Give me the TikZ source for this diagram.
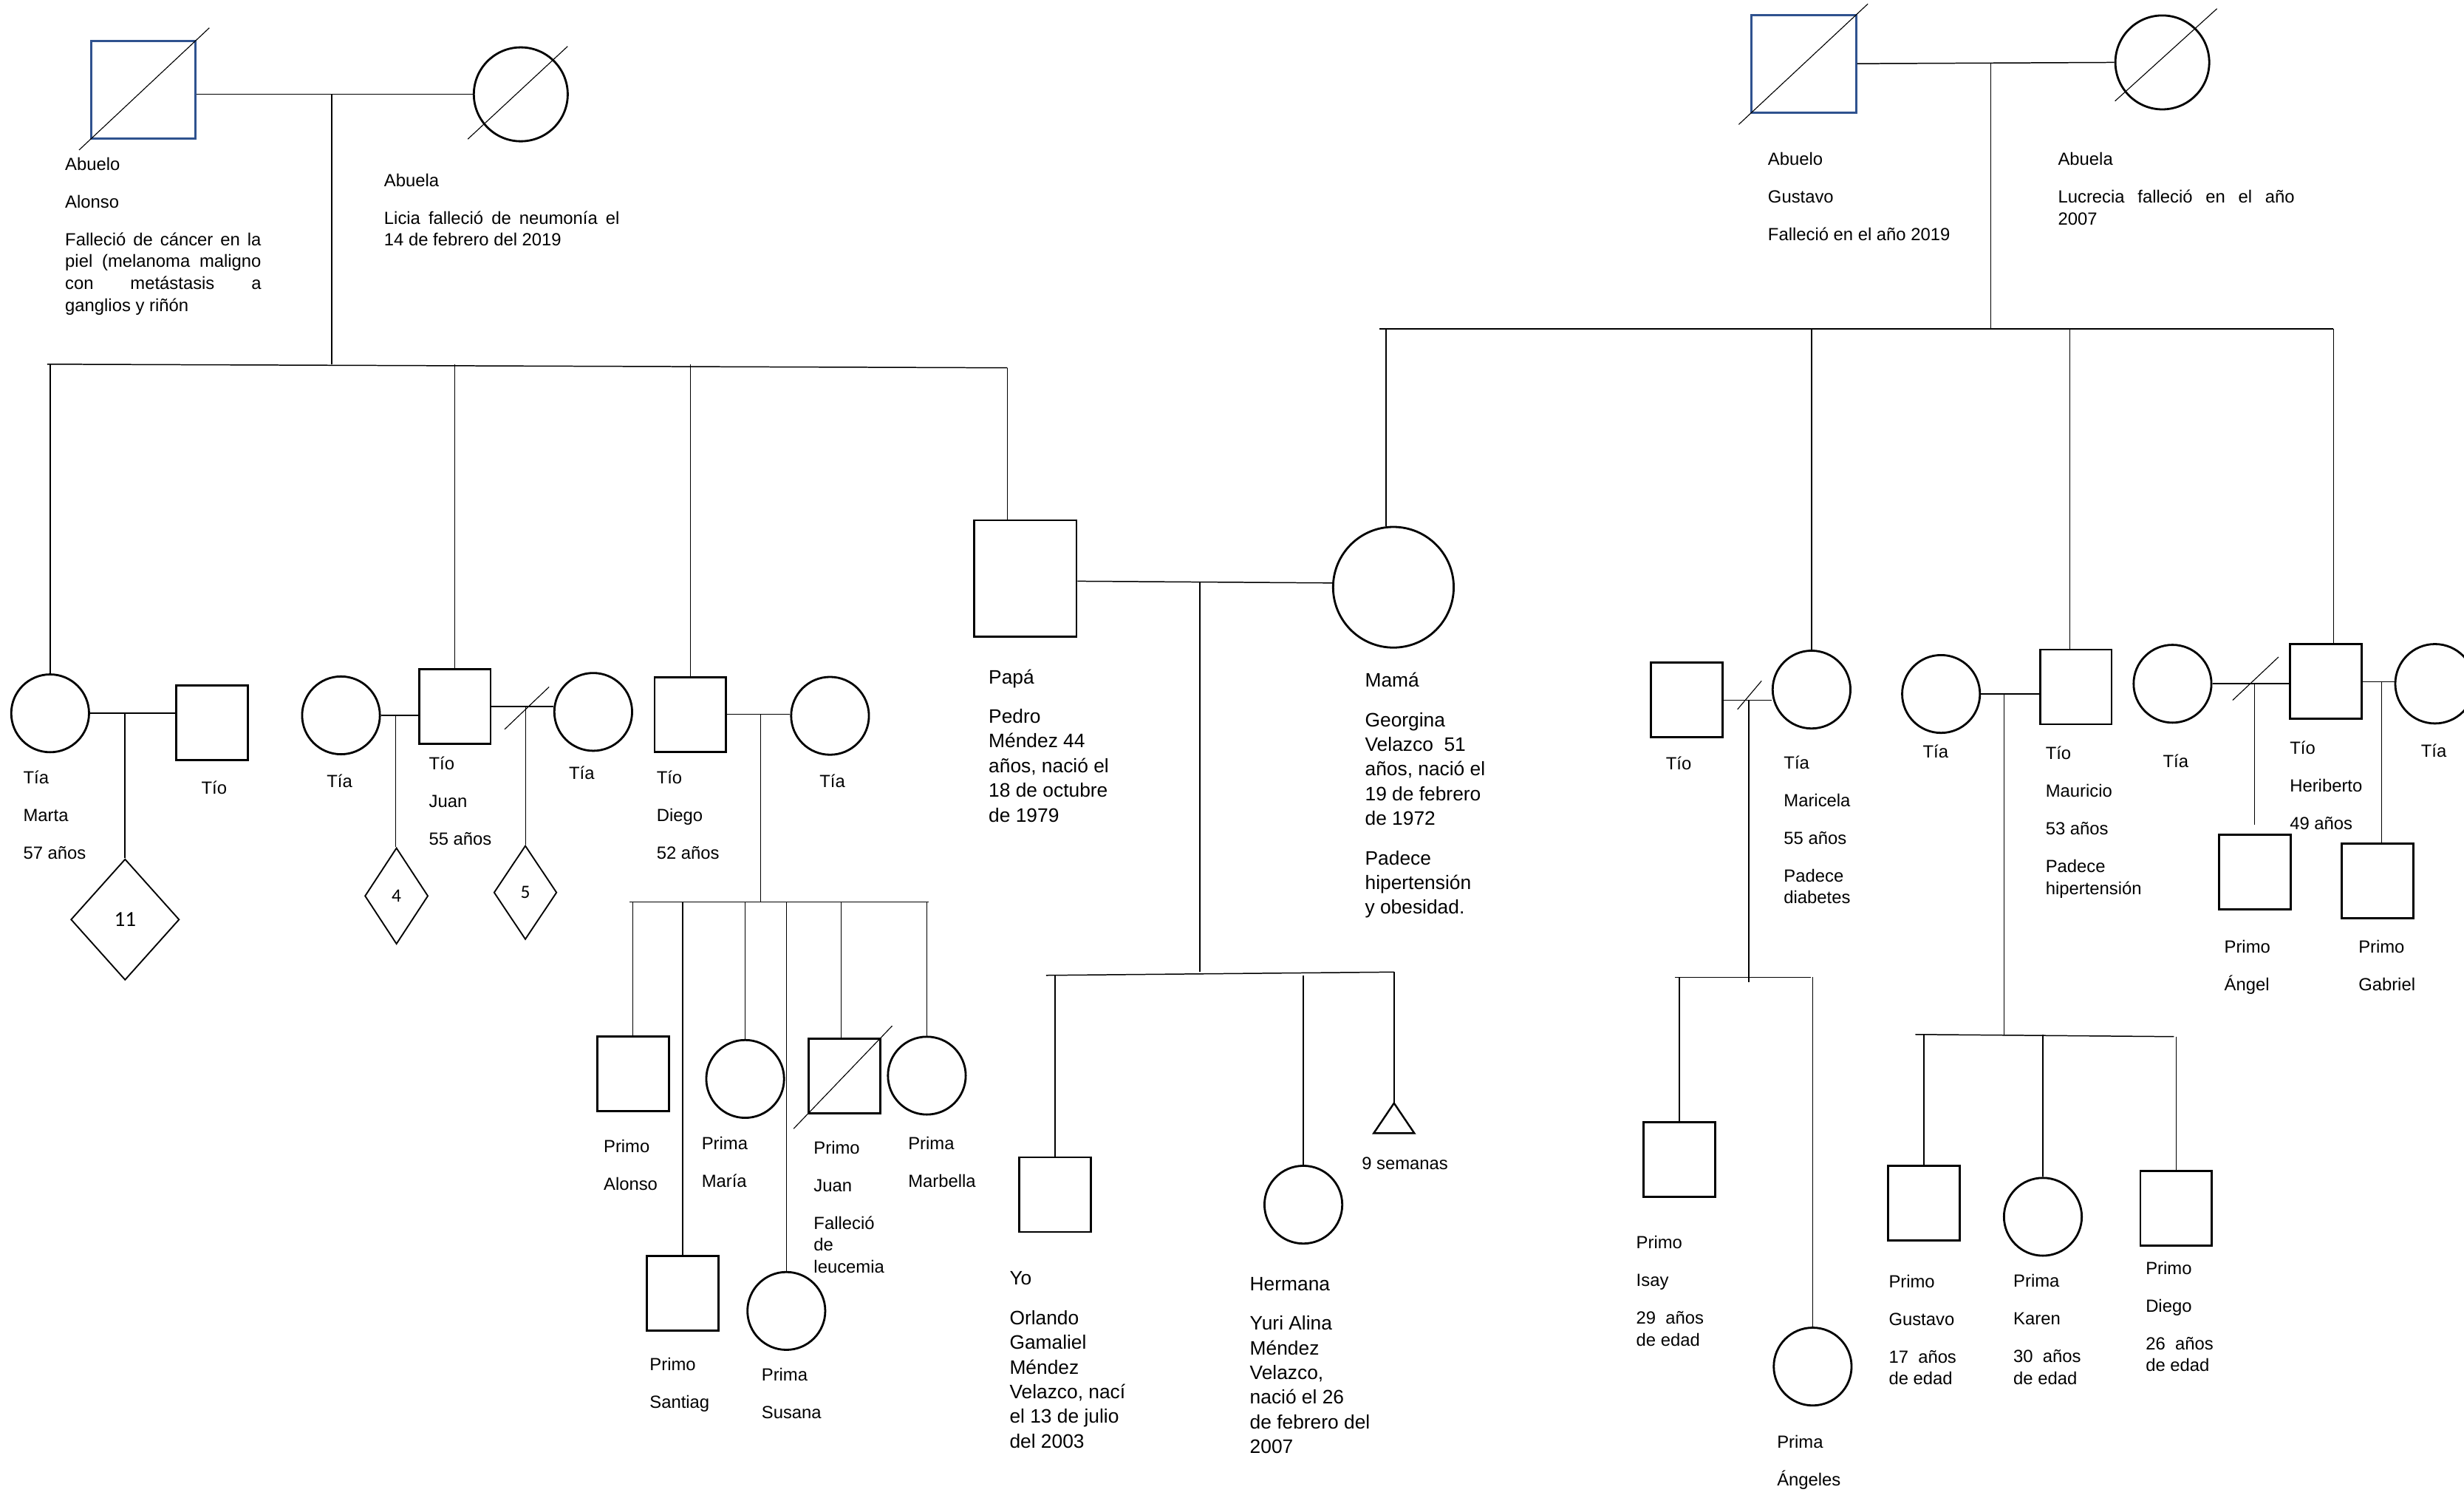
\documentclass[tikz,border=0pt]{standalone}
\usepackage{fontspec}
\setmainfont{Liberation Sans}
\newfontfamily\numfont{Carlito}
\usetikzlibrary{shapes.geometric,calc}

\definecolor{deadblue}{HTML}{2F528F}

\tikzstyle{every node}=[inner sep=0pt]
\tikzstyle{male}=[draw, rectangle, line width=1.5pt,
                  minimum width=18.2mm, minimum height=19mm]
\tikzstyle{female}=[draw, circle, line width=1.5pt, minimum size=19.8mm]
\tikzstyle{unknown}=[draw, diamond, line width=1pt,
                     font=\numfont\fontsize{13.6}{16}\selectfont]
\tikzstyle{txt}=[anchor=base west, font=\fontsize{12.75}{15.9}\selectfont]
\tikzstyle{bigtxt}=[anchor=base west, font=\fontsize{14.1}{17.86}\selectfont]
\tikzstyle{link}=[line width=0.8pt]
\tikzstyle{slash}=[line width=0.6pt]

\newcommand{\lines}[1]{\begin{tabular}[t]{@{}l@{}}#1\end{tabular}}
\newcommand{\gap}{\\[4mm]}
\newcommand{\biggap}{\\[3.8mm]}

\begin{document}
\begin{tikzpicture}[x=0.4mm, y=-0.4mm]
  \path[use as bounding box, fill=white] (0, 0) rectangle (1568, 952.6);

  % abuelos paternos
  \draw (91.1, 57.2) node[male, draw=deadblue, line width=1.6pt,
        minimum width=26.6mm, minimum height=24.9mm] (abueloP) {};
  \draw (331.4, 60) node[female, minimum size=23.9mm] (abuelaP) {};
  \draw[slash] ($(abueloP.south west)!-0.1!(abueloP.north east)$)
            -- ($(abueloP.south west)!1.12!(abueloP.north east)$);
  \draw[slash] ($(abuelaP)+(-33.7, 28.5)$) -- ($(abuelaP)+(29.8, -30.5)$);
  \draw[link] (abuelaP.west) -- (abuelaP.west -| abueloP.east);
  \coordinate (mAL) at ($(abueloP.east |- abuelaP)!0.49!(abuelaP.west)$);
  \coordinate (sibPL) at (30, 231.7);
  \coordinate (sibPR) at (641, 234);
  \draw[link] (mAL) -- (mAL |- sibPL);
  \path[draw, link] (sibPL) -- (sibPR);

  \draw (41.3, 108.2) node[txt] (tAbueloP) {\lines{Abuelo\gap Alonso\gap
        \makebox[49.9mm][s]{Falleció de cáncer en la}\\
        \makebox[49.9mm][s]{piel (melanoma maligno}\\
        \makebox[49.9mm][s]{con metástasis a}\\ ganglios y riñón}};
  \draw (244.3, 118.6) node[txt] (tAbuelaP) {\lines{Abuela\gap
        \makebox[59.9mm][s]{Licia falleció de neumonía el}\\
        14 de febrero del 2019}};

  % Marta
  \draw (31.9, 453.8) node[female] (marta) {};
  \draw (135, 459.9) node[male] (tioM) {};
  \draw[link] (marta.north |- sibPL) -- (marta.north);
  \draw[link] (marta.east) -- (marta.east -| tioM.west);
  \coordinate (mMarta) at ($(marta.east)!0.41!(marta.east -| tioM.west)$);
  \draw (79.6, 585) node[unknown, minimum width=27.6mm, minimum height=30.8mm,
        font=\numfont\fontsize{15.6}{18}\selectfont] (n11) {11};
  \draw[link] (mMarta) -- (mMarta |- n11.north);
  \draw (14.7, 498.8) node[txt] (tMarta) {\lines{Tía\gap Marta\gap 57 años}};
  \draw (128, 505) node[txt] (tTioM) {Tío};

  % Juan
  \draw (217, 455.1) node[female] (tiaJ1) {};
  \draw (289.4, 449.5) node[male] (juan) {};
  \draw (377.5, 452.9) node[female] (tiaJ2) {};
  \draw[link] (juan.north |- sibPL) -- (juan.north);
  \draw[link] (tiaJ1.east) -- (tiaJ1.east -| juan.west);
  \draw[link] (juan.east) -- (juan.east -| tiaJ2.west);
  \coordinate (mJuan1) at ($(tiaJ1.east)!0.4!(tiaJ1.east -| juan.west)$);
  \coordinate (mJuan2) at ($(juan.east)!0.55!(juan.east -| tiaJ2.west)$);
  \draw[slash] ($(mJuan2)+(-13.3, 14.5)$) -- ($(mJuan2)+(15, -12.5)$);
  \draw (252.3, 570) node[unknown, minimum width=16.1mm, minimum height=24.5mm] (n4) {4};
  \draw (334.3, 567.8) node[unknown, minimum width=16mm, minimum height=23.9mm] (n5) {5};
  \draw[link] (mJuan1) -- (mJuan1 |- n4.north);
  \draw[link] (mJuan2) -- (mJuan2 |- n5.north);
  \draw (207.8, 501) node[txt] (tTiaJ1) {Tía};
  \draw (272.8, 489.8) node[txt] (tJuan) {\lines{Tío\gap Juan\gap 55 años}};
  \draw (361.9, 496) node[txt] (tTiaJ2) {Tía};

  % Diego
  \draw (439.3, 454.5) node[male] (diego) {};
  \draw (528.2, 455.4) node[female] (tiaD) {};
  \draw[link] (diego.north |- sibPL) -- (diego.north);
  \draw[link] (diego.east) -- (diego.east -| tiaD.west);
  \coordinate (mDiego) at ($(diego.east)!0.53!(diego.east -| tiaD.west)$);
  \coordinate (sibDL) at (400.6, 573.8);
  \coordinate (sibDR) at (591, 573.8);
  \draw[link] (mDiego) -- (mDiego |- sibDL);
  \path[draw, link] (sibDL) -- (sibDR);
  \draw (417.7, 498.8) node[txt] (tDiego) {\lines{Tío\gap Diego\gap 52 años}};
  \draw (521.4, 501) node[txt] (tTiaD) {Tía};

  \draw (402.8, 683.2) node[male] (alonso) {};
  \draw (434.5, 822.8) node[male] (santiago) {};
  \draw (474.2, 686.4) node[female] (maria) {};
  \draw (500.4, 834) node[female] (susana) {};
  \draw (537.3, 684.4) node[male] (juanP) {};
  \draw (589.8, 684.3) node[female] (marbella) {};
  \draw[link] (alonso.north |- sibDL) -- (alonso.north);
  \draw[link] (santiago.north |- sibDL) -- (santiago.north);
  \draw[link] (maria.north |- sibDL) -- (maria.north);
  \draw[link] (susana.north |- sibDL) -- (susana.north);
  \draw[link] (juanP.95 |- sibDL) -- (juanP.95);
  \draw[link] (marbella.north |- sibDL) -- (marbella.north);
  \draw[slash] ($(juanP.south west)!-0.19!(juanP.north east)$)
            -- ($(juanP.south west)!1.15!(juanP.north east)$);

  \draw (384, 733.3) node[txt] (tAlonso) {\lines{Primo\gap Alonso}};
  \draw (446.4, 731.4) node[txt] (tMaria) {\lines{Prima\gap María}};
  \draw (517.7, 734) node[txt] (tJuanP) {\lines{Primo\gap Juan\gap Falleció\\de\\leucemia}};
  \draw (577.8, 731.4) node[txt] (tMarbella) {\lines{Prima\gap Marbella}};
  \draw (413.3, 872) node[txt] (tSantiago) {\lines{Primo\gap Santiag}};
  \draw (484.5, 878.4) node[txt] (tSusana) {\lines{Prima\gap Susana}};

  % padres
  \draw (652.5, 368) node[male, minimum width=26mm, minimum height=29.6mm] (papa) {};
  \draw (886.7, 373.6) node[female, minimum size=30.7mm] (mama) {};
  \draw[link] (sibPR) -- (sibPR |- papa.north);
  \draw[link] (papa.-3) -- (mama.176);
  \coordinate (mPadres) at ($(papa.-3)!0.48!(mama.176)$);
  \coordinate (sibYL) at (665.7, 620.5);
  \coordinate (sibYR) at (887.1, 618.4);
  \draw[link] (mPadres) -- (mPadres |- sibYR);
  \path[draw, link] (sibYL) -- (sibYR);

  \draw (671.3, 760) node[male] (yo) {};
  \draw (829.4, 766.4) node[female] (hermana) {};
  \coordinate (embrion) at (887.1, 701.8);
  \draw[link] (yo.north |- sibYL) -- (yo.north);
  \draw[link] (hermana.north |- sibYL) -- (hermana.north);
  \draw[link] (sibYR) -- (embrion);
  \draw[line width=1.3pt] (embrion) -- ++(12.9, 19.1) -- ++(-25.8, 0) -- cycle;

  \draw (629, 434.9) node[bigtxt] (tPapa) {\lines{Papá\biggap Pedro\\Méndez 44\\
        años, nació el\\18 de octubre\\de 1979}};
  \draw (868.5, 437) node[bigtxt] (tMama) {\lines{Mamá\biggap Georgina\\Velazco\ \ 51\\
        años, nació el\\19 de febrero\\de 1972\biggap Padece\\hipertensión\\y obesidad.}};
  \draw (642.3, 817.5) node[bigtxt] (tYo) {\lines{Yo\biggap Orlando\\Gamaliel\\Méndez\\
        Velazco, nací\\el 13 de julio\\del 2003}};
  \draw (795.2, 821) node[bigtxt] (tHermana) {\lines{Hermana\biggap Yuri Alina\\Méndez\\
        Velazco,\\nació el 26\\de febrero del\\2007}};
  \draw (866.5, 744.2) node[txt] (tEmbrion) {9 semanas};

  % abuelos maternos
  \draw (1147.9, 40.5) node[male, draw=deadblue, line width=1.6pt,
        minimum width=26.6mm, minimum height=24.8mm] (abueloM) {};
  \draw (1376, 39.7) node[female, minimum size=23.9mm] (abuelaM) {};
  \draw[slash] ($(abueloM.south west)!-0.11!(abueloM.north east)$)
            -- ($(abueloM.south west)!1.1!(abueloM.north east)$);
  \draw[slash] ($(abuelaM)+(-30.1, 24.6)$) -- ($(abuelaM)+(34.8, -34.2)$);
  \draw[link] (abueloM.east) -- (abuelaM.west);
  \coordinate (mGL) at ($(abueloM.east)!0.52!(abuelaM.west)$);
  \coordinate (sibML) at (878, 209.2);
  \coordinate (sibMR) at (1484.9, 209.2);
  \draw[link] (mGL) -- (mGL |- sibML);
  \path[draw, link] (sibML) -- (sibMR);
  \draw[link] (mama.97 |- sibML) -- (mama.97);

  \draw (1124.9, 105.1) node[txt] (tAbueloM) {\lines{Abuelo\gap Gustavo\gap
        Falleció en el año 2019}};
  \draw (1309.5, 105.1) node[txt] (tAbuelaM) {\lines{Abuela\gap
        \makebox[60.2mm][s]{Lucrecia falleció en el año}\\ 2007}};

  % Maricela
  \draw (1073.5, 445.4) node[male] (tioMa) {};
  \draw (1152.8, 438.7) node[female] (maricela) {};
  \draw[link] (maricela.north |- sibML) -- (maricela.north);
  \draw[link] (tioMa.east) -- (tioMa.east -| maricela.west);
  \coordinate (mMaricela) at ($(tioMa.east)!0.52!(tioMa.east -| maricela.west)$);
  \draw[slash] ($(mMaricela)+(-7.1, 5.9)$) -- ($(mMaricela)+(8.2, -12.2)$);
  \coordinate (sibIL) at (1066, 621.7);
  \coordinate (sibIR) at (1152.4, 621.7);
  \draw[link] (mMaricela) -- ($(mMaricela |- sibIL)+(0, 3)$);
  \path[draw, link] (sibIL) -- (sibIR);
  \draw (1068.7, 737.8) node[male] (isay) {};
  \draw (1153.5, 869.4) node[female] (angeles) {};
  \draw[link] (isay.north |- sibIL) -- (isay.north);
  \draw[link] (angeles.north |- sibIL) -- (angeles.north);

  \draw (1060, 489.5) node[txt] (tTioMa) {Tío};
  \draw (1135, 489.1) node[txt] (tMaricela) {\lines{Tía\gap Maricela\gap 55 años\gap
        Padece\\diabetes}};
  \draw (1041.1, 794.4) node[txt] (tIsay) {\lines{Primo\gap Isay\gap 29\ \ años\\de edad}};
  \draw (1130.7, 921.5) node[txt] (tAngeles) {\lines{Prima\gap Ángeles}};

  % Mauricio
  \draw (1235.2, 441.5) node[female] (tiaMau) {};
  \draw (1321, 437) node[male] (mauricio) {};
  \draw[link] (mauricio.99 |- sibML) -- (mauricio.99);
  \draw[link] (tiaMau.east) -- (tiaMau.east -| mauricio.west);
  \coordinate (mMauricio) at ($(tiaMau.east)!0.4!(tiaMau.east -| mauricio.west)$);
  \coordinate (sibGL) at (1218.8, 658.1);
  \coordinate (sibGR) at (1383.4, 659.5);
  \draw[link] (mMauricio) -- (mMauricio |- sibGL);
  \path[draw, link] (sibGL) -- (sibGR);
  \draw (1224.2, 765.5) node[male] (gustavo) {};
  \draw (1300, 774.1) node[female] (karen) {};
  \draw (1384.8, 768.8) node[male] (diegoP) {};
  \draw[link] (gustavo.north |- sibGL) -- (gustavo.north);
  \draw[link] (karen.north |- sibGL) -- (karen.north);
  \draw[link] (diegoP.north |- sibGR) -- (diegoP.north);

  \draw (1223.5, 482.3) node[txt] (tTiaMau) {Tía};
  \draw (1301.6, 483.1) node[txt] (tMauricio) {\lines{Tío\gap Mauricio\gap 53 años\gap
        Padece\\hipertensión}};
  \draw (1201.8, 819.1) node[txt] (tGustavo) {\lines{Primo\gap Gustavo\gap 17\ \ años\\de edad}};
  \draw (1281.1, 818.7) node[txt] (tKaren) {\lines{Prima\gap Karen\gap 30\ \ años\\de edad}};
  \draw (1365.3, 810.6) node[txt] (tDiegoP) {\lines{Primo\gap Diego\gap 26\ \ años\\de edad}};

  % Heriberto
  \draw (1382.5, 435) node[female] (tiaH1) {};
  \draw (1480.1, 433.6) node[male] (heriberto) {};
  \draw (1549.5, 435) node[female, minimum size=20.2mm] (tiaH2) {};
  \draw[link] (sibMR) -- (sibMR |- heriberto.north);
  \draw[link] (tiaH1.east) -- (tiaH1.east -| heriberto.west);
  \draw[link] (heriberto.east) -- (heriberto.east -| tiaH2.west);
  \coordinate (mHeri1) at ($(tiaH1.east)!0.55!(tiaH1.east -| heriberto.west)$);
  \coordinate (mHeri2) at ($(heriberto.east)!0.6!(heriberto.east -| tiaH2.west)$);
  \draw[slash] ($(mHeri1)+(-14, 10.5)$) -- ($(mHeri1)+(15.2, -17)$);
  \draw (1434.8, 554.9) node[male] (angel) {};
  \draw (1513.1, 560.5) node[male] (gabriel) {};
  \draw[link] (mHeri1) -- ($(mHeri1 |- angel.north)+(0, -6)$);
  \draw[link] (mHeri2) -- (mHeri2 |- gabriel.north);

  \draw (1376.3, 488.2) node[txt] (tTiaH1) {Tía};
  \draw (1457, 479.6) node[txt] (tHeriberto) {\lines{Tío\gap Heriberto\gap 49 años}};
  \draw (1540.5, 481.9) node[txt] (tTiaH2) {Tía};
  \draw (1415.3, 606.4) node[txt] (tAngel) {\lines{Primo\gap Ángel}};
  \draw (1500.7, 606.4) node[txt] (tGabriel) {\lines{Primo\gap Gabriel}};
\end{tikzpicture}
\end{document}
